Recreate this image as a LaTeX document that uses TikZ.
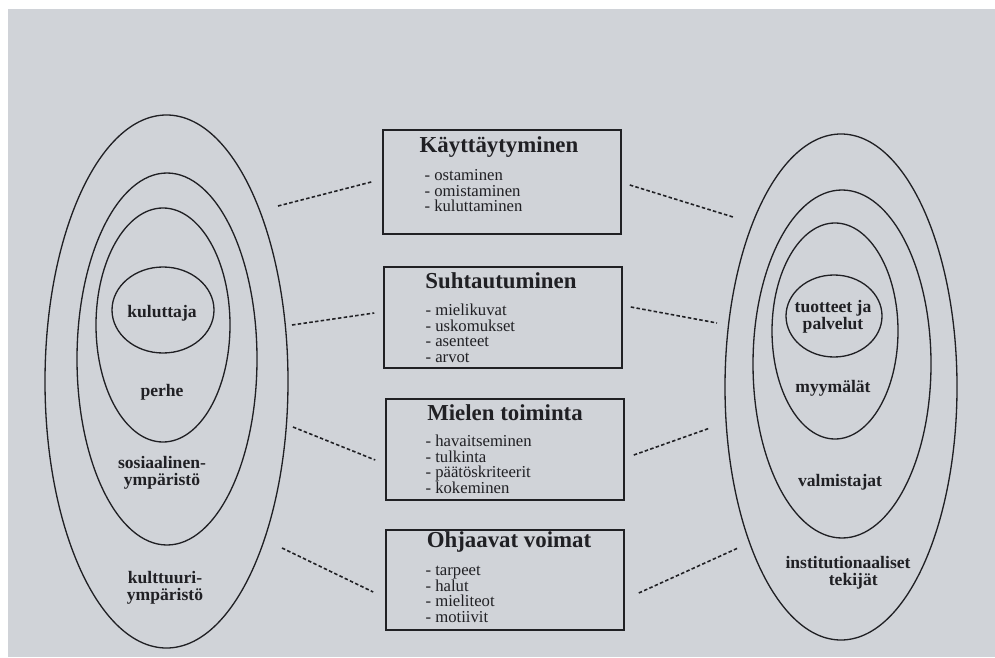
\documentclass[tikz,border=0pt]{standalone}
\usepackage{fontspec}
\setmainfont{Liberation Serif}
\usetikzlibrary{positioning}
\definecolor{paper}{RGB}{208,211,216}
\definecolor{ink}{RGB}{32,32,36}

\begin{document}
\begin{tikzpicture}[
    ring/.style={draw=ink, line width=0.75pt},
    box/.style={draw=ink, line width=0.9pt, minimum width=4.76cm, inner sep=0pt},
    head/.style={font=\fontsize{13}{14}\selectfont\bfseries, text=ink, inner sep=0pt},
    list/.style={align=left, inner sep=0pt, anchor=north west, font=\fontsize{9.5}{8.9}\selectfont, text=ink},
    tag/.style={align=center, inner sep=0pt, font=\fontsize{10}{9.5}\selectfont\bfseries, text=ink},
    link/.style={draw=ink, line width=0.9pt, dash pattern=on 2pt off 1.3pt}]
                    \useasboundingbox (0,0) rectangle (19.9,-13.14);
                    % Page
                    \fill[paper] (0.16,-0.18) rectangle (19.9,-13.14);
                    % Left-hand Ellipses
                    \draw[ring] (3.33,-7.63) ellipse [x radius=2.43, y radius=5.33];
                    \draw[ring] (3.34,-7.18) ellipse [x radius=1.80, y radius=3.72];
                    \draw[ring] (3.26,-6.50) ellipse [x radius=1.34, y radius=2.34];
                    \draw[ring] (3.26,-6.20) ellipse [x radius=1.02, y radius=0.86];
                    \node[tag] (kuluttaja) at (3.24,-6.26) {kuluttaja};
                    \node[tag] (perhe) at (3.24,-7.84) {perhe};
                    \node[tag] (sosiaal) at (3.24,-9.46) {sosiaalinen-\\ympäristö};
                    \node[tag] (kulttuuri) at (3.30,-11.76) {kulttuuri-\\ympäristö};
                    % Right-hand Ellipses
                    \draw[ring] (16.82,-7.74) ellipse [x radius=2.32, y radius=5.06];
                    \draw[ring] (16.84,-7.28) ellipse [x radius=1.78, y radius=3.48];
                    \draw[ring] (16.70,-6.62) ellipse [x radius=1.26, y radius=2.16];
                    \draw[ring] (16.68,-6.32) ellipse [x radius=0.96, y radius=0.82];
                    \node[tag] (tuotteet) at (16.66,-6.34) {tuotteet ja\\palvelut};
                    \node[tag] (myymalat) at (16.66,-7.76) {myymälät};
                    \node[tag] (valmistajat) at (16.80,-9.64) {valmistajat};
                    \node[tag] (instit) at (16.96,-11.46) {institutionaaliset\\\hspace*{0.6em}tekijät};
                    % Boxes
                    \node[box, minimum height=2.08cm] (kay) at (10.04,-3.64) {};
                    \node[head] (kayhead) at ([xshift=-0.06cm, yshift=-0.36cm]kay.north) {Käyttäytyminen};
                    \node[list] (kaylist) at ([xshift=0.84cm, yshift=-0.80cm]kay.north west)
                        {- ostaminen\\- omistaminen\\- kuluttaminen};
                    \node[box, minimum height=2.02cm] (suh) at (10.06,-6.35) {};
                    \node[head] (suhhead) at ([xshift=-0.04cm, yshift=-0.30cm]suh.north) {Suhtautuminen};
                    \node[list] (suhlist) at ([xshift=0.84cm, yshift=-0.75cm]suh.north west)
                        {- mielikuvat\\- uskomukset\\- asenteet\\- arvot};
                    \node[box, minimum height=2.02cm] (mie) at (10.10,-8.99) {};
                    \node[head] (miehead) at ([yshift=-0.28cm]mie.north) {Mielen toiminta};
                    \node[list] (mielist) at ([xshift=0.80cm, yshift=-0.73cm]mie.north west)
                        {- havaitseminen\\- tulkinta\\- päätöskriteerit\\- kokeminen};
                    \node[box, minimum height=2.00cm] (ohj) at (10.10,-11.60) {};
                    \node[head] (ohjhead) at ([xshift=0.08cm, yshift=-0.26cm]ohj.north) {Ohjaavat voimat};
                    \node[list] (ohjlist) at ([xshift=0.80cm, yshift=-0.73cm]ohj.north west)
                        {- tarpeet\\- halut\\- mieliteot\\- motiivit};
                    % Left-hand Links
                    \coordinate (lkay) at (5.56,-4.12);
                    \coordinate (lsuh) at (5.84,-6.50);
                    \coordinate (lmie) at (5.86,-8.54);
                    \coordinate (lohj) at (5.64,-10.96);
                    \draw[link] (lkay) -- ([xshift=-0.22cm]kay.west);
                    \draw[link] (lsuh) -- ([xshift=-0.18cm, yshift=0.09cm]suh.west);
                    \draw[link] (lmie) -- ([xshift=-0.20cm, yshift=-0.21cm]mie.west);
                    \draw[link] (lohj) -- ([xshift=-0.24cm, yshift=-0.24cm]ohj.west);
                    % Right-hand Links
                    \coordinate (rkay) at (14.66,-4.34);
                    \coordinate (rsuh) at (14.34,-6.46);
                    \coordinate (rmie) at (14.20,-8.56);
                    \coordinate (rohj) at (14.76,-10.96);
                    \draw[link] ([xshift=0.16cm, yshift=-0.06cm]kay.east) -- (rkay);
                    \draw[link] ([xshift=0.16cm, yshift=0.21cm]suh.east) -- (rsuh);
                    \draw[link] ([xshift=0.18cm, yshift=-0.11cm]mie.east) -- (rmie);
                    \draw[link] ([xshift=0.28cm, yshift=-0.26cm]ohj.east) -- (rohj);
\end{tikzpicture}
\end{document}
